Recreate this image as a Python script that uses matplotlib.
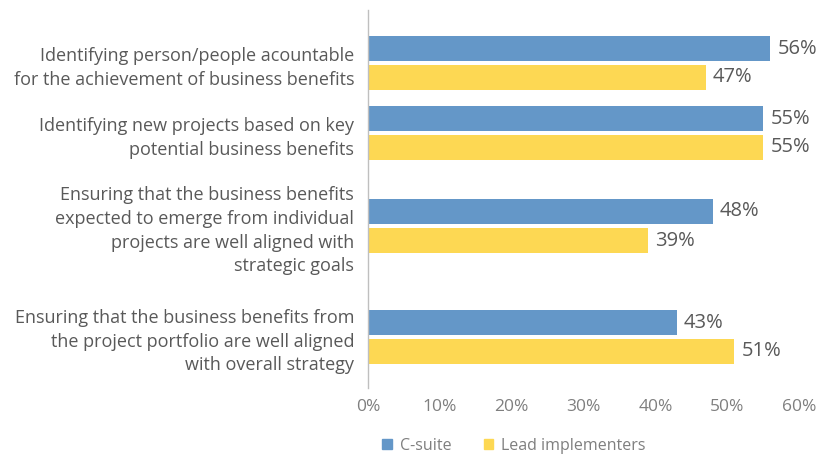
import matplotlib.pyplot as plt
from matplotlib.patches import Patch

categories = [
    "Identifying person/people acountable\nfor the achievement of business benefits",
    "Identifying new projects based on key\npotential business benefits",
    "Ensuring that the business benefits\nexpected to emerge from individual\nprojects are well aligned with\nstrategic goals",
    "Ensuring that the business benefits from\nthe project portfolio are well aligned\nwith overall strategy",
]
c_suite = [56, 55, 48, 43]
lead_impl = [47, 55, 39, 51]
series_names = ["C-suite", "Lead implementers"]
x_ticks = [0, 10, 20, 30, 40, 50, 60]

# layout: group centres in pixel rows (groups are unevenly spaced)
centres = [63, 133, 226, 337]
bar_h = 25
off = 14.5

BLUE = "#6497C8"
YELLOW = "#FDD853"
TXT = "#595959"

plt.rcParams["font.family"] = ["Open Sans", "DejaVu Sans"]

fig = plt.figure(figsize=(8.39, 4.58), dpi=100)
ax = fig.add_axes([368 / 839, (458 - 388) / 458, 431 / 839, 378 / 458])

yb = [c - off for c in centres]
yy = [c + off for c in centres]
ax.barh(yb, c_suite, height=bar_h, color=BLUE)
ax.barh(yy, lead_impl, height=bar_h, color=YELLOW)

for y, v in zip(yb, c_suite):
    ax.text(v + 1.0, y, f"{v}%", va="center", ha="left", fontsize=14.5, color=TXT)
for y, v in zip(yy, lead_impl):
    ax.text(v + 1.0, y, f"{v}%", va="center", ha="left", fontsize=14.5, color=TXT)

ax.set_xlim(0, 60)
ax.set_ylim(388, 10)
ax.set_xticks(x_ticks)
ax.set_xticklabels([f"{t}%" for t in x_ticks], fontsize=12.5, color="#7f7f7f")
ax.set_yticks(centres)
ax.set_yticklabels(categories, fontsize=13, color=TXT, linespacing=1.4)
ax.tick_params(length=0, pad=10)
ax.tick_params(axis="x", pad=8)
for s in ["top", "right", "bottom"]:
    ax.spines[s].set_visible(False)
ax.spines["left"].set_color("#bfbfbf")
ax.spines["left"].set_linewidth(1)

handles = [Patch(color=BLUE), Patch(color=YELLOW)]
fig.legend(handles, series_names, loc="center left",
           bbox_to_anchor=(368 / 839, 1 - 446 / 458), ncol=2, frameon=False,
           fontsize=11.5, labelcolor="#7f7f7f", handlelength=0.6, handleheight=0.6,
           handletextpad=0.5, columnspacing=2.0)

fig.savefig("out.png", dpi=100)
